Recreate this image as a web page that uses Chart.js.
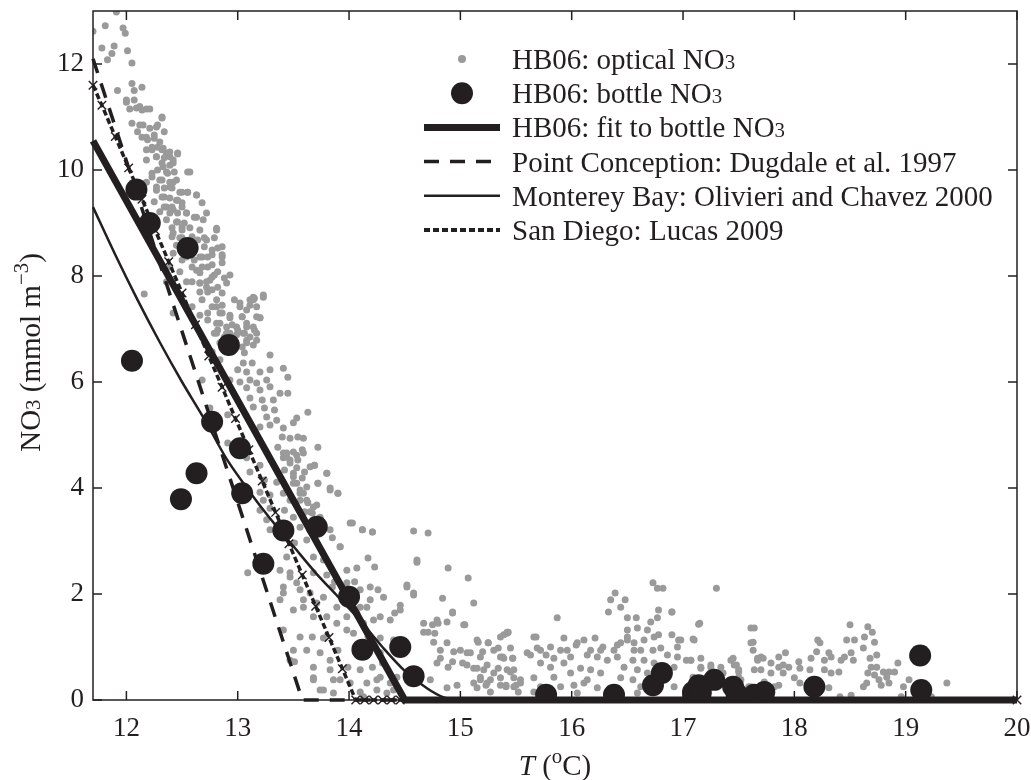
<!DOCTYPE html>
<html>
<head>
<meta charset="utf-8">
<script src="https://cdn.jsdelivr.net/npm/chart.js@4.4.0/dist/chart.umd.min.js"></script>
<style>
  html, body { margin: 0; padding: 0; background: #fff; }
</style>
</head>
<body>
<canvas id="nitrateChart" width="1031" height="780"></canvas>
<script>
// axis ticks
var xTicks = [12, 13, 14, 15, 16, 17, 18, 19, 20];
var yTicks = [0, 2, 4, 6, 8, 10, 12];

// HB06 optical NO3 (T, NO3)
var opticalPoints = [
  [11.70,12.62],[11.81,12.72],[11.91,12.98],[11.97,12.68],[11.99,12.58],[11.78,12.30],[11.89,12.34],[11.87,12.20],
  [11.83,12.08],[12.01,12.25],[12.05,12.02],[11.92,11.50],[12.05,11.63],[12.07,11.50],[12.14,11.56],[12.00,11.32],
  [12.07,11.32],[12.12,11.20],[12.18,11.15],[12.03,11.15],[12.32,11.00],[12.05,10.88],[12.15,10.85],[12.21,10.79],
  [12.27,10.81],[12.10,10.72],[12.18,10.62],[12.25,10.66],[12.23,10.43],[12.28,10.43],[12.33,10.41],[12.36,10.32],
  [12.39,10.25],[12.46,10.30],[12.42,10.13],[12.27,10.25],[12.18,10.19],[12.33,10.06],[12.57,9.96],[12.23,9.94],
  [12.37,9.94],[12.30,9.81],[12.42,9.77],[12.39,9.68],[12.48,9.58],[12.27,9.62],[12.55,9.58],[12.63,9.53],
  [12.34,9.49],[12.45,9.43],[12.50,9.38],[12.68,9.38],[12.36,9.30],[12.42,9.25],[12.54,9.19],[12.61,9.11],
  [12.69,9.06],[12.46,9.02],[12.50,8.92],[12.66,8.87],[12.81,8.87],[12.42,8.81],[12.48,8.72],[12.72,8.68],
  [12.82,8.53],[12.42,8.43],[12.50,8.30],[12.66,8.36],[12.73,8.36],[12.86,8.36],[12.39,8.17],[12.48,8.08],
  [12.63,8.11],[12.73,8.17],[12.77,7.98],[12.90,7.87],[12.54,7.89],[12.66,7.87],[12.72,7.79],[12.82,7.79],
  [12.36,7.89],[13.23,7.64],[13.14,7.60],[12.16,7.66],
  [12.00,11.28],[12.09,11.17],[12.14,11.13],[12.21,11.15],[12.12,10.85],[12.28,10.85],[12.32,10.98],[12.34,10.72],
  [12.14,10.62],[12.19,10.57],[12.25,10.60],[12.30,10.53],[12.18,10.38],[12.23,10.38],[12.32,10.38],[12.39,10.34],
  [12.46,10.32],[12.27,10.25],[12.34,10.23],[12.32,10.13],[12.39,10.09],[12.42,10.19],[12.28,10.00],[12.36,9.96],
  [12.43,9.96],[12.55,9.96],[12.23,9.87],[12.32,9.81],[12.39,9.77],[12.45,9.81],[12.18,9.77],[12.27,9.68],
  [12.34,9.66],[12.41,9.66],[12.50,9.58],[12.55,9.58],[12.63,9.53],[12.32,9.49],[12.39,9.47],[12.46,9.43],
  [12.25,9.40],[12.34,9.30],[12.41,9.30],[12.50,9.30],[12.30,9.21],[12.39,9.19],[12.46,9.19],[12.54,9.19],
  [12.63,9.11],[12.72,9.19],[12.36,9.06],[12.45,9.02],[12.52,9.00],[12.41,8.91],[12.50,8.87],[12.57,8.91],
  [12.41,8.74],[12.50,8.72],[12.59,8.74],[12.64,8.68],[12.70,8.72],[12.79,8.72],[12.45,8.58],[12.54,8.53],
  [12.70,8.55],[12.77,8.49],[12.86,8.55],[12.54,8.36],[12.61,8.30],[12.68,8.36],[12.77,8.40],[12.59,8.17],
  [12.68,8.17],[12.77,8.21],[12.66,8.06],[12.72,7.89],[12.79,8.02],[12.59,7.89],[12.66,7.70],[12.73,7.70],
  [12.81,7.55],[12.86,7.45],[12.68,7.55],[12.59,7.42],[12.66,7.26],[12.73,7.17],[12.82,6.98],[12.93,6.92],
  [13.00,6.98],[13.06,6.92],[13.11,7.55],[13.15,7.58],[13.20,7.21],
  [12.81,8.90],[12.86,8.40],[12.86,8.25],[12.93,8.02],[12.88,7.96],[12.82,8.08],[12.75,7.92],[12.66,7.87],
  [12.77,7.74],[12.86,7.68],[12.97,7.55],[13.02,7.49],[13.23,7.60],[13.14,7.55],[13.17,7.42],[13.08,7.36],
  [12.81,7.42],[12.73,7.30],[12.86,7.30],[12.93,7.21],[13.04,7.23],[13.20,7.21],[12.84,7.11],[12.95,7.08],
  [13.08,7.04],[13.15,6.98],[12.79,6.92],[12.90,6.92],[12.99,6.89],[13.08,6.79],[13.17,6.79],[12.86,6.75],
  [12.95,6.74],[13.04,6.66],
  [12.42,7.30],[12.77,7.42],[12.84,7.30],[12.93,7.26],[13.02,7.42],[13.11,7.45],[13.04,7.23],[13.17,7.23],
  [12.81,7.11],[12.90,7.04],[12.99,7.04],[13.08,7.11],[13.14,7.04],[12.81,6.92],[12.88,6.85],[13.05,6.92],
  [13.11,6.85],[13.17,6.92],[13.08,6.74],[13.14,6.70],[13.06,6.55],[12.84,6.74],[12.77,6.57],[12.84,6.42],
  [13.29,6.51],[13.41,6.26],[13.05,6.36],[13.13,6.36],[13.00,6.23],[13.08,6.19],[13.20,6.19],[13.29,6.23],
  [13.45,6.09],[12.68,6.04],[12.93,6.04],[13.02,6.00],[13.11,6.04],[13.17,5.98],[13.26,6.04],[13.08,5.89],
  [13.20,5.85],[13.29,5.91],[13.38,5.79],[13.45,5.79],[13.11,5.70],[13.22,5.66],[13.32,5.66],[13.14,5.53],
  [13.24,5.51],[13.33,5.47],[13.63,5.43],[12.75,5.51],[12.91,5.38],[13.26,5.34],[13.35,5.28],[13.53,5.32],
  [13.20,5.15],[13.29,5.19],[13.41,5.13],[13.50,5.23],[13.40,4.96],[13.47,4.94],[13.54,4.96],[13.59,4.94],
  [12.91,4.85],[13.36,4.77],[13.44,4.66],[13.50,4.68],[13.58,4.72],[13.72,4.77],[13.41,4.57],[13.47,4.47],
  [13.54,4.53],[13.08,4.57],[13.20,4.43],[13.69,4.43],[13.11,4.30],[13.50,4.28],[13.80,4.28],[13.24,4.15],
  [13.35,4.11],[13.53,4.09],[13.72,4.09],[13.83,4.00],[13.90,3.90],[13.20,3.92],[13.29,3.87],[13.59,3.90],
  [13.23,3.77],[13.56,3.77],[13.63,3.72],[13.71,3.68],[13.20,3.58],[13.29,3.62],[13.60,3.55],[13.67,3.53],
  [14.01,3.34],[14.12,3.21],[14.21,3.17],[13.83,3.21],[13.26,3.40],[13.29,3.21],[13.62,3.02],[13.85,3.06],
  [13.92,2.89],[13.09,2.40],
  [13.41,4.66],[13.47,4.53],[13.53,4.38],[13.42,4.34],[13.50,4.21],[13.58,4.19],[13.60,4.30],[13.65,4.40],
  [13.62,4.02],[13.56,3.96],[13.41,3.90],[13.47,3.77],[13.42,3.58],[13.50,3.45],[13.59,3.53],[13.56,3.26],
  [13.44,3.08],[13.51,2.96],[13.44,2.70],[13.38,2.45],[13.47,2.40],[13.41,2.13],[13.56,2.08],[13.38,1.89],
  [13.59,1.89],[13.71,1.83],[13.68,2.40],[13.80,2.36],[13.87,2.23],[13.98,2.21],[14.05,2.23],[14.10,2.08],
  [14.19,2.13],[14.26,2.08],[14.31,1.94],[14.16,1.75],[14.07,1.64],[13.98,1.57],[13.89,1.75],[14.13,1.45],
  [14.22,1.51],[14.04,1.26],[14.17,1.19],[14.22,1.00],[14.13,0.89],[13.90,0.94],[13.83,0.75],[13.74,0.89],
  [13.62,0.94],[13.50,0.94],[13.67,1.19],[13.99,0.62],[14.10,0.57],[14.21,0.62],[14.28,0.43],[14.37,0.32],
  [14.43,0.43],[13.92,0.38],[14.01,0.32],[14.25,0.19],[14.34,0.13],[14.40,0.19],
  [13.44,4.58],[13.53,4.62],[13.59,4.66],[13.69,4.43],[13.80,4.28],[13.50,4.09],[13.72,4.09],[13.83,3.96],
  [13.90,3.90],[13.62,3.77],[13.56,3.90],[13.68,3.64],[13.65,3.55],[13.74,3.45],[14.03,3.34],[14.58,3.19],
  [14.71,3.15],[13.92,2.89],[13.68,2.70],[13.77,2.64],[14.17,2.68],[14.61,2.64],[14.23,2.51],[14.89,2.49],
  [13.98,2.45],[14.07,2.49],[15.07,2.30],[14.52,2.13],[14.58,1.98],[13.47,2.32],[13.53,2.21],[13.65,2.02],
  [13.77,1.94],[13.85,2.13],[14.84,1.92],[15.12,1.83],[14.19,1.89],[14.10,1.75],[14.46,1.79],[14.41,1.64],
  [14.28,1.57],[14.37,1.51],[14.93,1.64],[13.50,1.70],[13.59,1.75],[13.68,1.57],[13.80,1.57],[13.89,1.45],
  [13.98,1.32],[13.41,1.32],[14.67,1.45],[14.75,1.42],[14.80,1.45],[15.04,1.42],[14.71,1.28],[14.77,1.26],
  [15.43,1.28],[15.36,1.19],[13.56,1.19],[13.77,1.17],[14.28,1.17],[14.40,1.13],[14.76,1.09],[14.88,1.08],
  [15.16,1.09],[15.25,1.08],[15.60,0.89],[14.82,0.94],[14.94,0.91],[15.06,0.89],[15.18,0.81],[15.30,0.94],
  [15.38,0.81],[15.47,0.79],[13.47,0.75],[13.68,0.62],[13.83,0.57],[14.28,0.89],[14.30,0.70],[14.79,0.70],
  [14.89,0.62],[15.02,0.70],[15.12,0.60],[15.21,0.57],[15.30,0.51],[15.45,0.53],[15.54,0.38],[13.68,0.38],
  [13.86,0.38],[14.16,0.32],[14.25,0.38],[14.73,0.38],[15.18,0.38],[15.24,0.32],[15.36,0.28],[15.48,0.25],
  [13.77,0.19],[13.86,0.13],[14.10,0.15],[14.13,0.06],[15.15,0.23],[15.27,0.15],
  [13.41,2.02],[13.51,0.72],[13.68,0.42],[13.74,0.19],[14.21,3.17],[14.12,3.21],
  [14.61,2.60],[14.52,2.17],[14.58,2.02],[14.93,1.66],[14.46,1.70],[14.79,1.51],[14.88,1.47],[15.03,1.42],
  [14.67,1.28],[15.39,1.23],[15.42,1.28],[15.15,1.13],[15.25,1.08],[15.34,0.98],[15.00,0.94],[15.09,0.89],
  [15.20,0.91],[15.36,0.81],[14.82,0.79],[14.93,0.72],[15.06,0.66],[15.15,0.60],[15.24,0.66],[15.34,0.60],
  [15.48,0.57],[15.18,0.43],[15.27,0.38],[15.36,0.42],[15.12,0.32],[15.23,0.28],[15.41,0.25],[15.50,0.28],
  [14.97,0.28],[14.88,0.23],[15.66,1.19],[15.72,0.94],[15.81,1.00],[15.96,0.94],[16.05,1.08],[16.17,0.94],
  [16.28,1.00],[16.41,1.04],[16.50,1.19],[16.56,0.94],
  [15.42,1.26],[15.45,0.98],[15.39,0.79],[15.47,0.79],[15.42,0.57],[15.48,0.42],[15.41,0.28],[15.54,0.32],
  [15.52,0.15],[15.68,1.19],[15.87,1.55],[15.69,0.98],[15.63,0.85],[15.77,0.85],[15.84,0.79],[15.93,1.17],
  [15.90,0.94],[15.72,0.70],[15.81,0.62],[15.93,0.70],[15.99,0.81],[15.66,0.42],[15.84,0.43],[15.99,0.51],
  [16.08,0.60],[15.72,0.25],[15.90,0.25],[16.02,0.28],[16.11,0.32],[16.11,1.13],[16.04,1.04],[16.14,0.85],
  [16.21,1.17],[16.23,0.81],[16.26,0.94],[16.32,0.75],[16.17,0.57],[16.26,0.51],[16.14,0.38],[16.23,0.23],
  [16.38,0.94],[16.41,0.81],[16.35,1.89],[16.39,2.02],[16.48,1.89],[16.33,1.66],[16.44,1.75],[16.50,1.55],
  [16.58,1.55],[16.50,1.32],[16.59,1.36],[16.68,1.32],[16.71,1.47],[16.77,1.55],[16.73,2.21],[16.77,2.11],
  [16.82,2.11],[16.78,1.70],[16.90,1.66],[16.50,1.13],[16.44,1.08],[16.56,1.08],[16.65,1.13],[16.74,1.19],
  [16.78,1.23],[16.90,1.23],[16.96,1.13],[16.62,0.94],[16.73,0.94],[16.80,0.98],[16.86,0.85],[16.95,0.81],
  [16.55,0.75],[16.65,0.75],[16.74,0.70],[16.47,0.62],[16.59,0.57],[16.68,0.51],[16.44,0.42],[16.55,0.38],
  [16.62,0.25],[16.92,0.62],[17.03,0.75],[17.07,0.75],[17.10,1.13],[17.15,1.45],[17.30,2.11],[17.09,0.43],
  [17.16,0.62],[17.25,0.62],[17.34,0.62],[17.43,0.75],[17.48,0.66],[17.50,0.53],[17.52,0.38],[17.59,0.25],
  [17.61,1.36],[17.64,1.36],[17.61,1.08],[17.63,0.94],[17.67,0.79],[17.64,0.57],[16.92,0.25],[17.05,0.15],
  [15.66,0.15],[16.05,0.13],[16.59,0.13],
  [16.90,1.66],[17.14,1.43],[17.09,1.15],[16.98,1.13],[16.95,1.00],[17.07,0.75],[17.16,0.79],[17.16,0.60],
  [17.25,0.66],[17.36,0.51],[17.45,0.79],[17.46,0.66],[17.50,0.57],[17.50,0.43],[17.50,0.32],[17.41,0.19],
  [17.61,0.25],[17.63,1.09],[17.67,0.75],[17.70,0.81],[17.86,0.81],[17.92,0.89],[17.95,0.62],[17.86,0.62],
  [17.79,0.51],[17.86,0.28],[18.00,0.42],[18.05,0.32],
  [17.72,0.79],[17.70,0.57],[17.73,0.34],[17.82,0.25],[17.79,0.70],[17.90,0.66],[17.90,0.51],[18.04,0.72],
  [18.05,0.60],[18.14,0.57],[18.15,0.79],[18.21,1.13],[18.23,1.08],[18.20,0.91],[18.27,0.75],[18.31,0.89],
  [18.33,0.81],[18.27,0.57],[18.33,0.51],[18.31,0.23],[18.40,0.53],[18.42,0.75],[18.45,0.81],[18.51,0.89],
  [18.50,1.42],[18.47,1.13],[18.54,1.13],[18.53,0.75],[18.62,0.98],[18.63,1.19],[18.66,1.38],[18.70,1.28],
  [18.72,1.09],[18.74,0.85],[18.68,0.79],[18.69,0.62],[18.66,0.51],[18.65,0.32],[18.62,0.25],[18.72,0.47],
  [18.76,0.38],[18.78,0.28],[18.74,0.62],[18.80,0.53],[18.85,0.53],[18.83,0.43],[18.85,0.32],[18.90,0.53],
  [18.93,0.70],[18.98,0.25],[19.03,0.38],[19.37,0.32],[19.23,0.06],[18.41,0.06],[18.51,0.09],[18.96,0.06]
];

// HB06 bottle NO3
var bottleT   = [12.05, 12.09, 12.21, 12.55, 12.49, 12.63, 12.77, 12.92, 13.02, 13.04, 13.23, 13.41, 13.71, 14.00, 14.12, 14.46, 14.58,
                 15.77, 16.38, 16.73, 16.81, 17.09, 17.14, 17.16, 17.28, 17.45, 17.48, 17.64, 17.73, 18.18, 19.13, 19.14];
var bottleNO3 = [6.40, 9.63, 9.00, 8.53, 3.79, 4.28, 5.25, 6.70, 4.75, 3.90, 2.57, 3.20, 3.27, 1.95, 0.95, 1.00, 0.45,
                 0.10, 0.10, 0.28, 0.51, 0.15, 0.28, 0.13, 0.38, 0.25, 0.12, 0.10, 0.15, 0.25, 0.84, 0.19];

// HB06 fit to bottle NO3
var fitT   = [11.70, 14.50, 20.00];
var fitNO3 = [10.55, 0.00, 0.00];

// Point Conception: Dugdale et al. 1997
var dugT   = [11.70, 13.58, 20.00];
var dugNO3 = [12.10, 0.00, 0.00];

// Monterey Bay: Olivieri and Chavez 2000
var montT   = [11.70, 11.90, 12.10, 12.30, 12.50, 12.70, 12.90, 13.10, 13.30, 13.50, 13.70, 13.90, 14.10, 14.30, 14.50, 14.70, 14.85, 15.00, 20.00];
var montNO3 = [9.30, 8.40, 7.55, 6.75, 6.00, 5.30, 4.55, 3.95, 3.40, 2.90, 2.40, 1.95, 1.50, 1.00, 0.55, 0.22, 0.05, 0.00, 0.00];

// San Diego: Lucas 2009 (marker positions)
var sdT   = [11.70, 11.78, 11.90, 12.02, 12.14, 12.26, 12.38, 12.50, 12.62, 12.74, 12.86, 12.98, 13.10, 13.22, 13.34, 13.46, 13.58, 13.70, 13.82, 13.94, 14.06, 14.14, 14.22, 14.30, 14.38, 14.46, 20.00];
var sdNO3 = [11.60, 11.22, 10.63, 10.04, 9.45, 8.86, 8.27, 7.68, 7.08, 6.49, 5.90, 5.31, 4.72, 4.13, 3.54, 2.95, 2.36, 1.77, 1.18, 0.59, 0.00, 0.00, 0.00, 0.00, 0.00, 0.00, 0.00];

var INK = '#231f20';
var SERIF = '"Liberation Serif", "Times New Roman", serif';
var TEXT_SIZE = 29;

function pairs(xs, ys) {
    return xs.map(function (x, i) { return { x: x, y: ys[i] }; });
}

// draws text made of pieces: n = normal, i = italic, sub, sup
function drawParts(ctx, parts, x, y, size, measureOnly) {
    var cx = x;
    parts.forEach(function (p) {
        var f = size, dy = 0, st = '';
        if (p[1] === 'sub') { f = size * 0.72; }
        if (p[1] === 'sup') { f = size * 0.72; dy = -size * 0.42; }
        if (p[1] === 'i') st = 'italic ';
        ctx.font = st + f + 'px ' + SERIF;
        if (!measureOnly) ctx.fillText(p[0], cx, y + dy);
        cx += ctx.measureText(p[0]).width;
    });
    return cx - x;
}

var legendRows = [
    { kind: 'optical', parts: [['HB06: optical NO', 'n'], ['3', 'sub']] },
    { kind: 'bottle',  parts: [['HB06: bottle NO', 'n'], ['3', 'sub']] },
    { kind: 'fit',     parts: [['HB06: fit to bottle NO', 'n'], ['3', 'sub']] },
    { kind: 'dug',     parts: [['Point Conception: Dugdale et al. 1997', 'n']] },
    { kind: 'mont',    parts: [['Monterey Bay: Olivieri and Chavez 2000', 'n']] },
    { kind: 'sd',      parts: [['San Diego: Lucas 2009', 'n']] }
];

var framePlugin = {
    id: 'frame',
    afterDatasetsDraw: function (chart) {
        var ctx = chart.ctx, a = chart.chartArea;
        var xs = chart.scales.x, ys = chart.scales.y;
        ctx.save();
        ctx.strokeStyle = INK;
        ctx.lineWidth = 1.5;
        ctx.strokeRect(a.left, a.top, a.right - a.left, a.bottom - a.top);
        ctx.beginPath();
        xTicks.forEach(function (v) {
            var px = xs.getPixelForValue(v);
            ctx.moveTo(px, a.bottom); ctx.lineTo(px, a.bottom - 9);
            ctx.moveTo(px, a.top); ctx.lineTo(px, a.top + 9);
        });
        yTicks.forEach(function (v) {
            var py = ys.getPixelForValue(v);
            ctx.moveTo(a.left, py); ctx.lineTo(a.left + 9, py);
            ctx.moveTo(a.right, py); ctx.lineTo(a.right - 9, py);
        });
        ctx.stroke();
        ctx.restore();
    },
    afterDraw: function (chart) {
        var ctx = chart.ctx, a = chart.chartArea;
        ctx.save();
        ctx.fillStyle = INK;
        ctx.textBaseline = 'alphabetic';
        ctx.textAlign = 'left';

        // axis titles
        var xt = [['T', 'i'], [' (', 'n'], ['o', 'sup'], ['C)', 'n']];
        var w = drawParts(ctx, xt, 0, 0, TEXT_SIZE, true);
        drawParts(ctx, xt, (a.left + a.right) / 2 - w / 2, 775, TEXT_SIZE);

        var yt = [['NO', 'n'], ['3', 'sub'], [' (mmol m', 'n'], ['\u22123', 'sup'], [')', 'n']];
        w = drawParts(ctx, yt, 0, 0, TEXT_SIZE, true);
        ctx.translate(40, (a.top + a.bottom) / 2 - 3);
        ctx.rotate(-Math.PI / 2);
        drawParts(ctx, yt, -w / 2, 0, TEXT_SIZE);
        ctx.restore();

        // legend
        ctx.save();
        var x0 = 424, x1 = 500, tx = 512, y0 = 59, dy = 34.2;
        legendRows.forEach(function (row, i) {
            var y = y0 + i * dy;
            ctx.setLineDash([]);
            ctx.strokeStyle = INK;
            ctx.fillStyle = INK;
            if (row.kind === 'optical') {
                ctx.fillStyle = '#9a9a9a';
                ctx.beginPath(); ctx.arc((x0 + x1) / 2, y, 4, 0, Math.PI * 2); ctx.fill();
            } else if (row.kind === 'bottle') {
                ctx.beginPath(); ctx.arc((x0 + x1) / 2, y, 11, 0, Math.PI * 2); ctx.fill();
            } else {
                var lw = 2.5, dash = [];
                if (row.kind === 'fit') lw = 7;
                if (row.kind === 'dug') { lw = 3.5; dash = [15, 11]; }
                if (row.kind === 'sd') { lw = 4; dash = [6, 3]; }
                ctx.lineWidth = lw;
                ctx.setLineDash(dash);
                ctx.beginPath(); ctx.moveTo(x0, y); ctx.lineTo(x1, y); ctx.stroke();
            }
            ctx.fillStyle = INK;
            drawParts(ctx, row.parts, tx, y + 10, TEXT_SIZE);
        });
        ctx.restore();
    }
};

var ctx = document.getElementById('nitrateChart').getContext('2d');
var nitrateChart = new Chart(ctx, {
    type: 'scatter',
    data: {
        datasets: [{
            label: 'HB06: optical NO3',
            data: opticalPoints.map(function (p) { return { x: p[0], y: p[1] }; }),
            backgroundColor: '#9a9a9a',
            borderWidth: 0,
            pointRadius: 3.5,
            order: 10
        }, {
            label: 'Monterey Bay: Olivieri and Chavez 2000',
            data: pairs(montT, montNO3),
            showLine: true,
            borderColor: INK,
            borderWidth: 2.5,
            pointRadius: 0,
            tension: 0.3,
            clip: false,
            order: 6
        }, {
            label: 'Point Conception: Dugdale et al. 1997',
            data: pairs(dugT, dugNO3),
            showLine: true,
            borderColor: INK,
            borderWidth: 3.5,
            borderDash: [15, 11],
            pointRadius: 0,
            clip: false,
            order: 5
        }, {
            label: 'San Diego: Lucas 2009',
            data: pairs(sdT, sdNO3),
            showLine: true,
            borderColor: INK,
            borderWidth: 3.5,
            borderDash: [6, 3],
            pointStyle: 'crossRot',
            pointRadius: 6,
            pointBorderWidth: 1.4,
            pointBorderColor: INK,
            pointBackgroundColor: INK,
            clip: false,
            order: 4
        }, {
            label: 'HB06: fit to bottle NO3',
            data: pairs(fitT, fitNO3),
            showLine: true,
            borderColor: INK,
            borderWidth: 7,
            pointRadius: 0,
            clip: false,
            order: 3
        }, {
            label: 'HB06: bottle NO3',
            data: pairs(bottleT, bottleNO3),
            backgroundColor: INK,
            borderWidth: 0,
            pointRadius: 11,
            order: 2
        }]
    },
    options: {
        responsive: false,
        animation: false,
        devicePixelRatio: 1,
        layout: { padding: { top: 11, right: 14, left: 0, bottom: 0 } },
        plugins: {
            legend: { display: false },
            tooltip: { enabled: false }
        },
        scales: {
            x: {
                type: 'linear',
                min: 11.7,
                max: 20,
                afterBuildTicks: function (s) { s.ticks = xTicks.map(function (v) { return { value: v }; }); },
                afterFit: function (s) { s.height = 80; s.paddingLeft = 0; s.paddingRight = 0; },
                grid: { display: false, drawTicks: false },
                border: { display: false },
                ticks: { color: INK, padding: 13, maxRotation: 0, font: { family: SERIF, size: 27 } }
            },
            y: {
                type: 'linear',
                min: 0,
                max: 13,
                afterBuildTicks: function (s) { s.ticks = yTicks.map(function (v) { return { value: v }; }); },
                afterFit: function (s) { s.width = 93; s.paddingTop = 0; s.paddingBottom = 0; },
                grid: { display: false, drawTicks: false },
                border: { display: false },
                ticks: { color: INK, padding: 9, font: { family: SERIF, size: 27 } }
            }
        }
    },
    plugins: [framePlugin]
});
</script>
</body>
</html>
